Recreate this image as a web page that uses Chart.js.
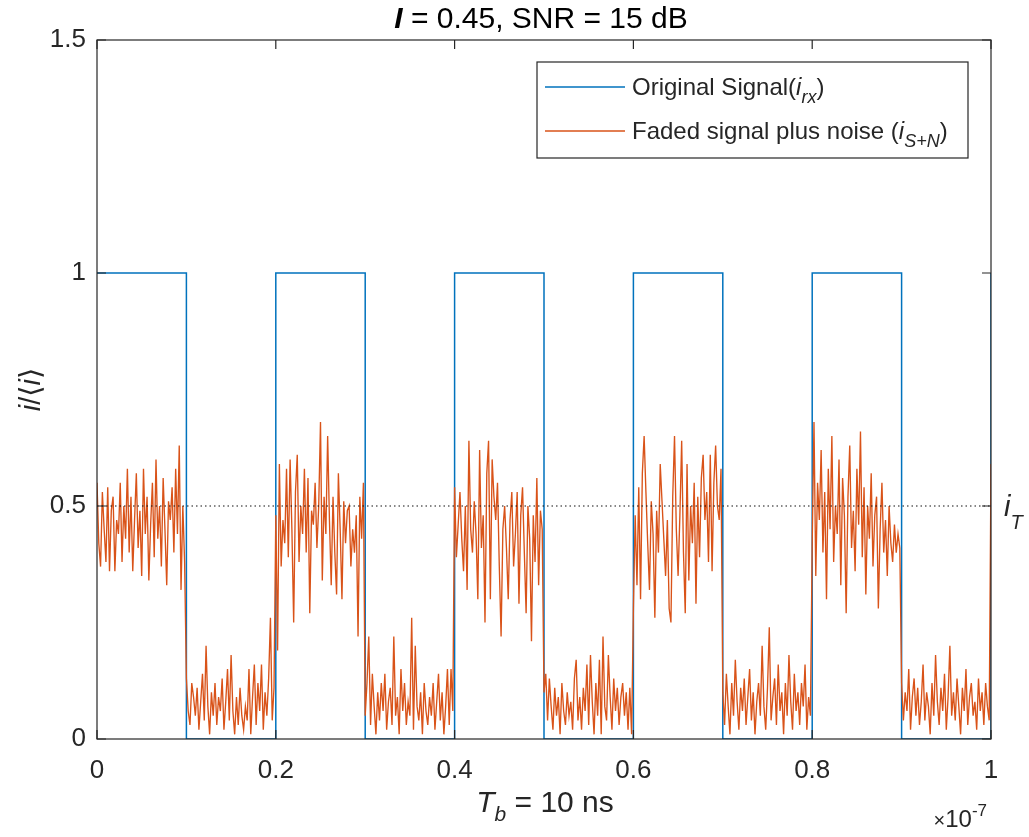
<!DOCTYPE html>
<html><head><meta charset="utf-8">
<script src="https://cdn.jsdelivr.net/npm/chart.js@4/dist/chart.umd.min.js"></script>
<style>html,body{margin:0;padding:0;background:#fff}#wrap{width:1029px;height:837px}</style>
</head><body><div id="wrap"><canvas id="c" width="1029" height="837"></canvas></div>
<script>
// ---- data (x in units of 1e-7 s) ----
const bitEdges = [0,0.1,0.2,0.3,0.4,0.5,0.6,0.7,0.8,0.9,1];
const originalLevels = [1,0,1,0,1,0,1,0,1,0];
const originalEndLevel = 1;
const sampleStep = 0.002;
const fadedBit1 = [0.55,0.42,0.37,0.53,0.45,0.38,0.54,0.36,0.49,0.52,0.36,0.47,0.44,0.55,0.38,0.50,0.43,0.58,0.40,0.52,0.36,0.47,0.57,0.41,0.49,0.35,0.58,0.44,0.52,0.34,0.46,0.55,0.39,0.60,0.43,0.50,0.37,0.56,0.45,0.33,0.51,0.47,0.54,0.40,0.58,0.44,0.63,0.32,0.50,0.38];
const fadedBit2 = [0.13,0.06,0.03,0.12,0.09,0.05,0.11,0.02,0.08,0.14,0.04,0.20,0.07,0.01,0.10,0.05,0.12,0.03,0.09,0.06,0.13,0.02,0.08,0.15,0.04,0.18,0.06,0.01,0.09,0.03,0.11,0.05,0.02,0.07,0.04,0.15,0.01,0.09,0.16,0.03,0.12,0.06,0.16,0.02,0.10,0.05,0.13,0.26,0.04,0.11];
const fadedBit3 = [0.48,0.19,0.59,0.37,0.47,0.42,0.58,0.39,0.60,0.45,0.25,0.53,0.61,0.38,0.50,0.44,0.58,0.40,0.56,0.27,0.49,0.46,0.55,0.41,0.50,0.68,0.34,0.52,0.44,0.65,0.47,0.33,0.52,0.40,0.31,0.57,0.45,0.30,0.51,0.42,0.49,0.50,0.37,0.45,0.40,0.48,0.22,0.52,0.43,0.55];
const fadedBit4 = [0.05,0.12,0.22,0.03,0.14,0.07,0.01,0.10,0.04,0.12,0.06,0.14,0.02,0.08,0.11,0.03,0.22,0.05,0.09,0.01,0.15,0.06,0.12,0.03,0.08,0.05,0.26,0.02,0.20,0.07,0.04,0.10,0.01,0.12,0.06,0.03,0.09,0.05,0.12,0.02,0.08,0.14,0.04,0.10,0.01,0.07,0.15,0.03,0.15,0.06];
const fadedBit5 = [0.54,0.39,0.46,0.53,0.43,0.36,0.50,0.32,0.64,0.45,0.40,0.51,0.44,0.30,0.62,0.41,0.48,0.25,0.57,0.64,0.30,0.60,0.52,0.47,0.55,0.37,0.22,0.45,0.50,0.41,0.30,0.47,0.53,0.37,0.44,0.53,0.29,0.48,0.54,0.40,0.27,0.50,0.43,0.21,0.48,0.38,0.56,0.33,0.49,0.45];
const fadedBit6 = [0.10,0.14,0.04,0.13,0.07,0.02,0.11,0.05,0.09,0.01,0.12,0.06,0.03,0.10,0.05,0.08,0.02,0.13,0.17,0.04,0.09,0.02,0.11,0.06,0.16,0.03,0.18,0.08,0.01,0.12,0.05,0.17,0.01,0.22,0.07,0.04,0.18,0.09,0.02,0.13,0.06,0.11,0.03,0.09,0.12,0.05,0.10,0.02,0.11,0.01];
const fadedBit7 = [0.28,0.48,0.33,0.54,0.30,0.57,0.65,0.53,0.42,0.32,0.51,0.44,0.26,0.49,0.40,0.59,0.51,0.43,0.35,0.47,0.28,0.25,0.52,0.65,0.45,0.35,0.48,0.64,0.40,0.27,0.59,0.34,0.50,0.42,0.55,0.29,0.52,0.39,0.56,0.61,0.47,0.53,0.38,0.61,0.36,0.55,0.63,0.50,0.47,0.58];
const fadedBit8 = [0.10,0.03,0.14,0.07,0.01,0.12,0.05,0.17,0.08,0.02,0.11,0.06,0.13,0.03,0.09,0.15,0.04,0.10,0.01,0.08,0.12,0.05,0.20,0.07,0.02,0.11,0.24,0.04,0.09,0.13,0.03,0.16,0.06,0.10,0.01,0.12,0.05,0.18,0.08,0.02,0.14,0.06,0.10,0.03,0.12,0.07,0.16,0.02,0.09,0.05];
const fadedBit9 = [0.42,0.68,0.35,0.55,0.47,0.62,0.40,0.53,0.30,0.58,0.45,0.65,0.38,0.50,0.44,0.60,0.33,0.56,0.48,0.27,0.52,0.63,0.41,0.49,0.36,0.58,0.46,0.66,0.39,0.54,0.31,0.50,0.43,0.57,0.37,0.48,0.52,0.28,0.45,0.55,0.40,0.47,0.35,0.50,0.42,0.38,0.46,0.40,0.44,0.41];
const fadedBit10 = [0.12,0.04,0.10,0.06,0.15,0.02,0.09,0.13,0.05,0.11,0.03,0.08,0.16,0.04,0.10,0.07,0.01,0.12,0.05,0.18,0.08,0.03,0.11,0.06,0.14,0.02,0.09,0.20,0.05,0.10,0.04,0.13,0.07,0.01,0.11,0.06,0.15,0.03,0.09,0.12,0.05,0.08,0.02,0.13,0.06,0.10,0.03,0.12,0.07,0.04];
const fadedFinal = 0.59;
const thresholdLevel = 0.5;
const xTicks = [0,0.2,0.4,0.6,0.8,1];
const yTicks = [0,0.5,1,1.5];

// ---- build datasets ----
const fadedValues = [].concat(fadedBit1,fadedBit2,fadedBit3,fadedBit4,fadedBit5,fadedBit6,fadedBit7,fadedBit8,fadedBit9,fadedBit10,[fadedFinal]);
const fadedData = fadedValues.map((v,i)=>({x:+(i*sampleStep).toFixed(4), y:v}));
const origData = [];
originalLevels.forEach((lv,k)=>{origData.push({x:bitEdges[k],y:lv});origData.push({x:bitEdges[k+1],y:lv});});
origData.push({x:bitEdges[bitEdges.length-1], y:originalEndLevel});
const thrData = [{x:bitEdges[0],y:thresholdLevel},{x:bitEdges[bitEdges.length-1],y:thresholdLevel}];

const BLUE='#0072BD', ORANGE='#D95319', AX='#262626';
const FF="'Liberation Sans', Arial, 'DejaVu Sans', sans-serif";

function runsWidth(ctx, runs){let w=0;for(const r of runs){ctx.font=r.f;w+=ctx.measureText(r.t).width;}return w;}
function drawRuns(ctx, x, y, runs, align, color){
  const w=runsWidth(ctx,runs);
  let cx = align==='center'? x-w/2 : (align==='right'? x-w : x);
  ctx.fillStyle=color||AX; ctx.textBaseline='alphabetic'; ctx.textAlign='left';
  for(const r of runs){ctx.font=r.f; ctx.fillText(r.t,cx,y+(r.dy||0)); cx+=ctx.measureText(r.t).width;}
}

const decor = {
  id:'decor',
  afterDatasetsDraw(chart){
    const {ctx, chartArea:ca, scales:{x:xs,y:ys}} = chart;
    ctx.save();
    ctx.strokeStyle=AX; ctx.lineWidth=1.2;
    ctx.strokeRect(ca.left, ca.top, ca.right-ca.left, ca.bottom-ca.top);
    const tl=9;
    ctx.beginPath();
    xTicks.forEach(v=>{const p=xs.getPixelForValue(v);ctx.moveTo(p,ca.bottom);ctx.lineTo(p,ca.bottom-tl);ctx.moveTo(p,ca.top);ctx.lineTo(p,ca.top+tl);});
    yTicks.forEach(v=>{const p=ys.getPixelForValue(v);ctx.moveTo(ca.left,p);ctx.lineTo(ca.left+tl,p);ctx.moveTo(ca.right,p);ctx.lineTo(ca.right-tl,p);});
    ctx.stroke();
    ctx.restore();
  },
  afterDraw(chart){
    const {ctx, chartArea:ca, scales:{y:ys}} = chart;
    ctx.save();
    const cx=(ca.left+ca.right)/2;
    drawRuns(ctx, cx-3, 28, [
      {t:'I', f:`italic bold 30px ${FF}`},
      {t:' = 0.45, SNR = 15 dB', f:`30px ${FF}`}
    ], 'center', '#000');
    drawRuns(ctx, cx+1, 812, [
      {t:'T', f:`italic 30px ${FF}`},
      {t:'b', f:`italic 21px ${FF}`, dy:9},
      {t:' = 10 ns', f:`30px ${FF}`}
    ], 'center');
    drawRuns(ctx, ca.right-4, 827, [
      {t:'\u00d7', f:`20px ${FF}`},
      {t:'10', f:`24px ${FF}`},
      {t:'-7', f:`17px ${FF}`, dy:-11}
    ], 'right');
    const ty = ys.getPixelForValue(thresholdLevel);
    drawRuns(ctx, ca.right+13, ty+10, [
      {t:'i', f:`italic 29px ${FF}`},
      {t:'T', f:`italic 20px ${FF}`, dy:13}
    ], 'left');
    ctx.save();
    ctx.translate(40, (ca.top+ca.bottom)/2);
    ctx.rotate(-Math.PI/2);
    drawRuns(ctx, 0, 0, [
      {t:'i', f:`italic 29px ${FF}`},
      {t:'/\u27e8', f:`29px ${FF}`},
      {t:'i', f:`italic 29px ${FF}`},
      {t:'\u27e9', f:`29px ${FF}`}
    ], 'center');
    ctx.restore();
    const lx=ca.right-454, ly=ca.top+22, lw=431, lh=96;
    ctx.fillStyle='#fff'; ctx.fillRect(lx,ly,lw,lh);
    ctx.strokeStyle=AX; ctx.lineWidth=1.2; ctx.strokeRect(lx,ly,lw,lh);
    const rows=[
      {c:BLUE, y:ly+25, runs:[{t:'Original Signal(',f:`24px ${FF}`},{t:'i',f:`italic 24px ${FF}`},{t:'rx',f:`italic 18px ${FF}`,dy:8},{t:')',f:`24px ${FF}`}]},
      {c:ORANGE, y:ly+69, runs:[{t:'Faded signal plus noise (',f:`24px ${FF}`},{t:'i',f:`italic 24px ${FF}`},{t:'S+N',f:`italic 18px ${FF}`,dy:8},{t:')',f:`24px ${FF}`}]}
    ];
    rows.forEach(r=>{
      ctx.strokeStyle=r.c; ctx.lineWidth=1.3;
      ctx.beginPath(); ctx.moveTo(lx+8,r.y); ctx.lineTo(lx+88,r.y); ctx.stroke();
      drawRuns(ctx, lx+95, r.y+8, r.runs, 'left');
    });
    ctx.restore();
  }
};

new Chart(document.getElementById('c'), {
  type:'line',
  data:{datasets:[
    {label:'Faded signal plus noise', data:fadedData, borderColor:ORANGE, borderWidth:1.35, pointRadius:0, order:1},
    {label:'Original Signal', data:origData, borderColor:BLUE, borderWidth:1.5, pointRadius:0, order:2},
    {label:'threshold', data:thrData, borderColor:'#111', borderWidth:1.1, borderDash:[1.5,3], pointRadius:0, order:0}
  ]},
  options:{
    responsive:false, animation:false, devicePixelRatio:1,
    layout:{padding:{left:0,right:38,top:40,bottom:0}},
    elements:{line:{tension:0}},
    plugins:{legend:{display:false}, tooltip:{enabled:false}, title:{display:false}},
    scales:{
      x:{type:'linear', min:0, max:1,
        grid:{display:false, drawTicks:false}, border:{display:false},
        afterBuildTicks:(s)=>{s.ticks=xTicks.map(v=>({value:v}));},
        afterFit:(s)=>{s.height=98;},
        ticks:{font:{family:FF,size:26}, color:AX, padding:16, maxRotation:0, autoSkip:false, callback:(v)=>String(v)}},
      y:{type:'linear', min:0, max:1.5,
        grid:{display:false, drawTicks:false}, border:{display:false},
        afterBuildTicks:(s)=>{s.ticks=yTicks.map(v=>({value:v}));},
        afterFit:(s)=>{s.width=97;},
        ticks:{font:{family:FF,size:26}, color:AX, padding:11, callback:(v)=>String(v)}}
    }
  },
  plugins:[decor]
});
</script>
</body></html>
